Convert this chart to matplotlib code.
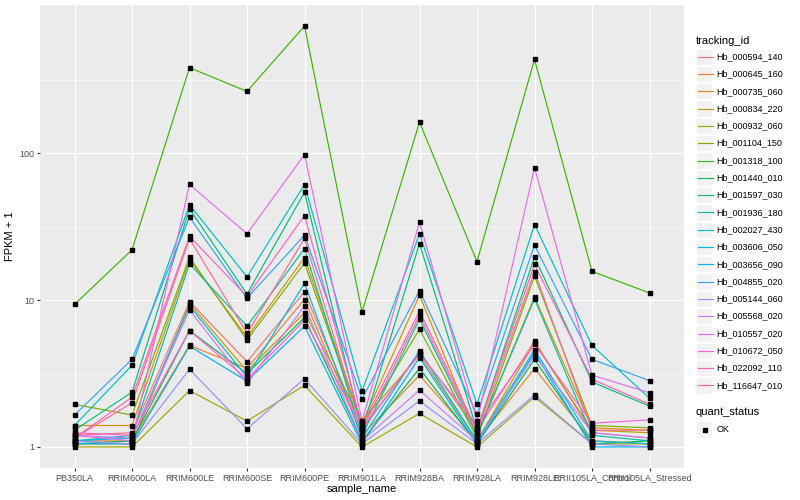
import numpy as np
import matplotlib
matplotlib.use("Agg")
import matplotlib.pyplot as plt
from matplotlib.patches import Rectangle
from matplotlib.lines import Line2D
from matplotlib.ticker import FixedLocator, NullFormatter

plt.rcParams["font.family"] = ["Liberation Sans", "DejaVu Sans"]

samples = ["PB350LA", "RRIM600LA", "RRIM600LE", "RRIM600SE", "RRIM600PE",
           "RRIM901LA", "RRIM928BA", "RRIM928LA", "RRIM928LE",
           "RRII105LA_Control", "RRII105LA_Stressed"]

tracking_ids = ["Hb_000594_140", "Hb_000645_160", "Hb_000735_060", "Hb_000834_220",
                "Hb_000932_060", "Hb_001104_150", "Hb_001318_100", "Hb_001440_010",
                "Hb_001597_030", "Hb_001936_180", "Hb_002027_430", "Hb_003606_050",
                "Hb_003656_090", "Hb_004855_020", "Hb_005144_060", "Hb_005568_020",
                "Hb_010557_020", "Hb_010672_050", "Hb_022092_110", "Hb_116647_010"]

# FPKM + 1 per gene, in sample order
fpkm = [
    [1.20, 1.25, 9.75, 3.81, 11.4, 1.30, 4.43, 1.30, 5.26, 1.25, 1.15],
    [1.10, 1.10, 4.92, 3.43, 10.1, 1.20, 3.08, 1.10, 3.42, 1.10, 1.05],
    [1.40, 1.40, 18.9, 5.60, 19.5, 1.45, 10.8, 1.20, 10.5, 1.35, 1.30],
    [1.05, 1.05, 9.45, 3.29, 8.20, 1.50, 4.23, 1.10, 5.13, 1.30, 1.25],
    [1.00, 1.00, 2.42, 1.50, 2.63, 1.00, 1.69, 1.00, 2.19, 1.05, 1.05],
    [1.95, 1.65, 19.6, 5.35, 17.9, 1.40, 6.35, 1.15, 14.6, 1.40, 1.35],
    [9.35, 22.0, 383, 264, 736, 8.30, 163, 18.3, 436, 15.7, 11.2],
    [1.05, 1.10, 6.20, 3.16, 7.60, 1.10, 3.43, 1.05, 3.95, 1.05, 1.10],
    [1.30, 2.36, 41.9, 11.0, 54.3, 1.30, 24.3, 1.30, 19.7, 2.77, 1.90],
    [1.10, 1.20, 17.7, 6.65, 22.4, 1.20, 7.40, 1.20, 10.2, 1.20, 1.10],
    [1.40, 3.60, 44.6, 14.4, 61.3, 2.40, 28.3, 1.95, 32.7, 4.92, 2.15],
    [1.10, 1.15, 9.10, 3.00, 13.0, 1.15, 4.50, 1.10, 4.59, 1.10, 1.05],
    [1.05, 1.05, 4.86, 2.81, 6.65, 1.05, 4.06, 1.05, 4.40, 1.00, 1.00],
    [1.65, 3.95, 36.7, 10.3, 27.7, 2.13, 11.6, 1.67, 23.7, 3.95, 2.83],
    [1.10, 1.05, 3.38, 1.33, 2.92, 1.05, 2.06, 1.05, 2.26, 1.05, 1.00],
    [1.20, 1.15, 8.55, 2.71, 9.10, 1.10, 2.44, 1.10, 4.21, 1.25, 1.15],
    [1.20, 1.10, 61.5, 28.3, 98.0, 1.50, 33.9, 1.50, 80.0, 3.08, 2.34],
    [1.25, 1.20, 6.20, 2.90, 7.30, 1.35, 4.30, 1.40, 5.00, 1.45, 1.53],
    [1.15, 2.18, 27.2, 10.6, 37.7, 1.40, 8.40, 1.30, 17.5, 2.89, 1.96],
    [1.15, 2.00, 26.2, 5.94, 26.3, 1.30, 7.87, 1.25, 15.6, 1.30, 1.30],
]


def hcl_to_hex(h, c=100.0, l=65.0):
    # polarLUV -> sRGB, D65 white, like R's hcl()
    xn, yn, zn = 95.047, 100.0, 108.883
    un = 4 * xn / (xn + 15 * yn + 3 * zn)
    vn = 9 * yn / (xn + 15 * yn + 3 * zn)
    u = c * np.cos(np.radians(h))
    v = c * np.sin(np.radians(h))
    y = yn * ((l + 16) / 116) ** 3 if l > 8 else yn * l / 903.3
    up = u / (13 * l) + un
    vp = v / (13 * l) + vn
    x = 9.0 * y * up / (4 * vp)
    z = -x / 3 - 5 * y + 3 * y / vp
    m = np.array([[3.240479, -1.537150, -0.498535],
                  [-0.969256, 1.875992, 0.041556],
                  [0.055648, -0.204043, 1.057311]])
    rgb = m @ (np.array([x, y, z]) / 100.0)
    rgb = np.where(rgb > 0.0031308, 1.055 * np.clip(rgb, 0, None) ** (1 / 2.4) - 0.055, 12.92 * rgb)
    rgb = np.clip(rgb, 0, 1)
    return "#%02x%02x%02x" % tuple(int(round(k * 255)) for k in rgb)


n = len(tracking_ids)
colors = [hcl_to_hex(15 + 360.0 / n * i) for i in range(n)]

fig = plt.figure(figsize=(8, 5), dpi=100)
W, H = 800, 500
pl, pr, pt, pb = 40, 684, 5, 468
ax = fig.add_axes([pl / W, 1 - pb / H, (pr - pl) / W, (pb - pt) / H])
ax.set_facecolor("#EBEBEB")
for s in ax.spines.values():
    s.set_visible(False)

xs = np.arange(len(samples))
for i, vals in enumerate(fpkm):
    ax.plot(xs, vals, color=colors[i], lw=0.85, zorder=3)
for vals in fpkm:
    ax.plot(xs, vals, ls="none", marker="s", ms=2.2, color="black", zorder=4)

ax.set_yscale("log")
ymax = np.log10(max(max(v) for v in fpkm))
pad = 0.05 * ymax
ax.set_ylim(10 ** (-pad), 10 ** (ymax + pad))
ax.set_xlim(-0.6, len(samples) - 0.4)
ax.yaxis.set_major_locator(FixedLocator([1, 10, 100]))
ax.set_yticklabels(["1", "10", "100"])
ax.yaxis.set_minor_locator(FixedLocator([10 ** 0.5, 10 ** 1.5, 10 ** 2.5]))
ax.yaxis.set_minor_formatter(NullFormatter())
ax.set_xticks(xs)
ax.set_xticklabels(samples)
ax.tick_params(axis="both", which="major", length=2.5, width=0.8, color="#333333",
               labelcolor="#4D4D4D", labelsize=6.5, pad=1.5)
ax.tick_params(axis="y", which="minor", length=0)
ax.grid(True, which="major", color="white", lw=0.8, zorder=0)
ax.grid(True, which="minor", axis="y", color="white", lw=0.4, zorder=0)
ax.set_axisbelow(True)
ax.set_xlabel("sample_name", fontsize=8, color="black", labelpad=1)
ax.set_ylabel("FPKM + 1", fontsize=8, color="black", labelpad=3)

# legend drawn in pixel coordinates
lg = fig.add_axes([0, 0, 1, 1], zorder=5)
lg.set_xlim(0, W)
lg.set_ylim(H, 0)
lg.axis("off")
lg.patch.set_alpha(0)
lg.text(696, 40.5, "tracking_id", fontsize=8, va="center", ha="left")
step = 17.3
y0 = 56.7
for i, tid in enumerate(tracking_ids):
    yc = y0 + i * step
    lg.add_patch(Rectangle((696, yc - step / 2 + 0.5), step - 1, step - 1,
                           facecolor="#F2F2F2", edgecolor="white", lw=0.6))
    lg.add_line(Line2D([698, 712.5], [yc, yc], color=colors[i], lw=0.85))
    lg.text(716.5, yc, tid, fontsize=6.5, va="center", ha="left")
lg.text(696, 412, "quant_status", fontsize=8, va="center", ha="left")
yc = 429.5
lg.add_patch(Rectangle((696, yc - step / 2 + 0.5), step - 1, step - 1,
                       facecolor="#F2F2F2", edgecolor="white", lw=0.6))
lg.add_line(Line2D([704.5], [yc], ls="none", marker="s", ms=2.2, color="black"))
lg.text(716.5, yc, "OK", fontsize=6.5, va="center", ha="left")

fig.savefig("out.png", dpi=100)
